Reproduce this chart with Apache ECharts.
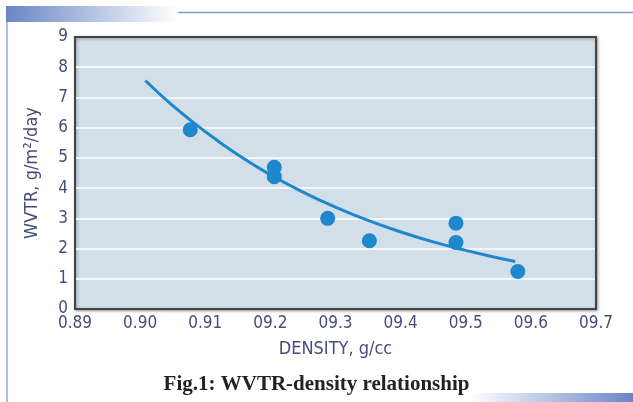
<!DOCTYPE html>
<html><head><meta charset="utf-8">
<script src="https://cdn.jsdelivr.net/npm/echarts@6/dist/echarts.min.js"></script>
<style>html,body{margin:0;padding:0;background:#fff}#c{width:633px;height:402px}</style>
</head><body><div id="c"></div>
<script>
// x positions are tick indices (0 = "0.89", 1 = "0.90", ...)
const xTickLabels = ['0.89','0.90','0.91','09.2','09.3','09.4','09.5','09.6','09.7'];
const yTicks = [0,1,2,3,4,5,6,7,8,9];
const pointX = [1.77, 3.06, 3.06, 3.88, 4.52, 5.85, 5.85, 6.80];
const pointY = [5.93, 4.69, 4.38, 3.00, 2.26, 2.84, 2.20, 1.24];
const fitX = [1.08, 1.5, 2.0, 2.5, 3.0, 3.5, 4.0, 4.5, 5.0, 5.5, 6.0, 6.5, 6.76];
const fitY = [7.56, 6.73, 5.87, 5.10, 4.44, 3.87, 3.37, 2.93, 2.55, 2.22, 1.94, 1.69, 1.57];

const chart = echarts.init(document.getElementById('c'), null, {renderer:'canvas'});
const labelFont = {fontFamily:'"DejaVu Sans Condensed","Liberation Sans Narrow","Liberation Sans",sans-serif', fontSize:17, color:'#474d7a'};
chart.setOption({
  animation:false,
  backgroundColor:'#fff',
  title:{text:'Fig.1: WVTR-density relationship', left:'center', top:369,
    textStyle:{fontFamily:'"Liberation Serif","DejaVu Serif",serif', fontWeight:'bold', fontSize:21, color:'#222'}},
  graphic:[
    {type:'rect', shape:{x:6,y:6,width:172,height:16}, style:{fill:new echarts.graphic.LinearGradient(0,0,1,0,[{offset:0,color:'#6a85c7'},{offset:1,color:'#ffffff'}])}, silent:true},
    {type:'line', shape:{x1:178,y1:12.5,x2:633,y2:12.5}, style:{stroke:'#7d98dd', lineWidth:1.5}, silent:true},
    {type:'line', shape:{x1:7,y1:22,x2:7,y2:402}, style:{stroke:'#8fa6e0', lineWidth:1.5}, silent:true},
    {type:'rect', shape:{x:470,y:393,width:163,height:9}, style:{fill:new echarts.graphic.LinearGradient(0,0,1,0,[{offset:0,color:'#ffffff'},{offset:1,color:'#6a85c7'}])}, silent:true},
    {type:'rect', z:100, shape:{x:75,y:37,width:521,height:272}, style:{fill:'none', stroke:'#454545', lineWidth:2}, silent:true}
  ],
  grid:{left:75, top:37, right:37, bottom:93, show:true, backgroundColor:'#d2dfe8', borderColor:'#454545', borderWidth:2,
    shadowColor:'rgba(0,0,0,0.35)', shadowBlur:3, shadowOffsetX:1, shadowOffsetY:1},
  xAxis:{type:'value', min:0, max:8, interval:1,
    name:'DENSITY, g/cc', nameLocation:'middle', nameGap:31,
    nameTextStyle:Object.assign({}, labelFont, {fontSize:18}),
    axisLine:{show:false}, axisTick:{show:false}, splitLine:{show:false},
    axisLabel:Object.assign({}, labelFont, {margin:6, formatter:v=>xTickLabels[Math.round(v)]})},
  yAxis:{type:'value', min:0, max:9, interval:1,
    name:'WVTR, g/m²/day', nameLocation:'middle', nameGap:34,
    nameTextStyle:Object.assign({}, labelFont, {fontSize:18}),
    axisLine:{show:false}, axisTick:{show:false},
    splitLine:{show:true, lineStyle:{color:'#f4f7fa', width:2}},
    axisLabel:Object.assign({}, labelFont, {margin:7, formatter:v=>String(yTicks[v])})},
  series:[
    {type:'line', data:fitX.map((x,i)=>[x,fitY[i]]), smooth:true, showSymbol:false, symbol:'none',
      lineStyle:{color:'#1f87cb', width:3}, z:2},
    {type:'scatter', data:pointX.map((x,i)=>[x,pointY[i]]), symbolSize:15,
      itemStyle:{color:'#1f87cb', opacity:1}, z:3}
  ]
});
</script></body></html>
